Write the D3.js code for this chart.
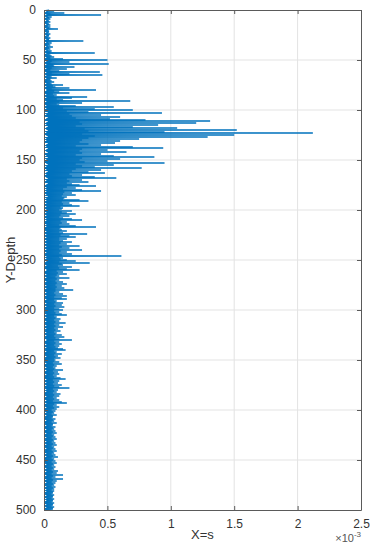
<!DOCTYPE html>
<html>
<head>
<meta charset="utf-8">
<script src="https://cdn.jsdelivr.net/npm/d3@7"></script>
<style>
  html, body { margin: 0; padding: 0; background: #fff; }
  svg { display: block; }
  text { font-family: "Liberation Sans", Arial, Helvetica, sans-serif; }
</style>
</head>
<body>
<div id="chart"></div>
<script>
// Excursion values of s (in units of 1e-3) at whole depths 0..500
const sValues = [
  0.04,0.08,0.03,0.16,0.05,0.45,0.03,0.06,0.04,0.05,
  0.03,0.04,0.05,0.03,0.04,0.05,0.03,0.05,0.04,0.11,
  0.03,0.04,0.04,0.03,0.05,0.04,0.04,0.03,0.05,0.04,
  0.04,0.31,0.03,0.06,0.04,0.05,0.03,0.07,0.04,0.05,
  0.03,0.06,0.05,0.40,0.04,0.05,0.06,0.08,0.05,0.15,
  0.50,0.06,0.20,0.05,0.51,0.07,0.08,0.24,0.06,0.18,
  0.05,0.12,0.44,0.06,0.20,0.46,0.05,0.06,0.10,0.05,
  0.05,0.06,0.08,0.05,0.06,0.15,0.07,0.09,0.20,0.06,
  0.41,0.08,0.12,0.20,0.07,0.10,0.08,0.34,0.22,0.10,
  0.15,0.68,0.12,0.30,0.10,0.12,0.25,0.55,0.15,0.40,
  0.70,0.18,0.35,0.93,0.20,0.45,0.22,0.60,0.25,0.52,
  0.80,1.31,0.28,1.20,0.30,0.90,0.25,0.70,1.05,0.32,
  1.52,0.35,0.95,2.12,0.30,1.50,0.40,1.29,0.35,0.75,
  0.30,0.60,0.28,0.56,0.35,0.45,0.25,0.70,0.94,0.30,
  0.50,0.28,0.65,0.30,0.45,0.25,0.55,0.87,0.30,0.60,
  0.28,0.50,0.32,0.95,0.25,0.55,0.30,0.40,0.77,0.25,
  0.45,0.22,0.35,0.48,0.20,0.30,0.22,0.40,0.57,0.18,
  0.30,0.20,0.35,0.18,0.22,0.28,0.41,0.18,0.25,0.15,
  0.30,0.45,0.16,0.22,0.15,0.25,0.14,0.18,0.16,0.15,
  0.28,0.35,0.14,0.20,0.15,0.22,0.28,0.13,0.15,0.14,
  0.12,0.22,0.14,0.18,0.25,0.13,0.20,0.12,0.15,0.22,
  0.30,0.13,0.18,0.14,0.20,0.12,0.25,0.41,0.13,0.12,
  0.14,0.18,0.12,0.15,0.34,0.13,0.20,0.25,0.12,0.18,
  0.12,0.15,0.22,0.13,0.18,0.12,0.28,0.14,0.20,0.12,
  0.30,0.13,0.18,0.12,0.22,0.14,0.61,0.12,0.15,0.13,
  0.18,0.25,0.12,0.36,0.14,0.15,0.11,0.22,0.12,0.18,
  0.28,0.10,0.15,0.11,0.18,0.10,0.12,0.09,0.20,0.10,
  0.12,0.09,0.15,0.10,0.18,0.09,0.14,0.10,0.16,0.09,
  0.23,0.09,0.12,0.08,0.15,0.09,0.18,0.08,0.14,0.18,
  0.08,0.10,0.09,0.15,0.08,0.14,0.09,0.16,0.08,0.12,
  0.15,0.08,0.12,0.09,0.14,0.18,0.08,0.10,0.09,0.13,
  0.08,0.12,0.09,0.17,0.08,0.12,0.09,0.15,0.08,0.11,
  0.09,0.13,0.08,0.10,0.09,0.14,0.08,0.16,0.09,0.12,
  0.22,0.08,0.12,0.09,0.14,0.08,0.12,0.09,0.11,0.15,
  0.17,0.08,0.10,0.09,0.14,0.08,0.11,0.09,0.13,0.08,
  0.09,0.08,0.12,0.07,0.14,0.08,0.10,0.07,0.09,0.08,
  0.15,0.07,0.11,0.08,0.12,0.07,0.10,0.08,0.13,0.17,
  0.07,0.12,0.08,0.11,0.07,0.14,0.08,0.12,0.20,0.07,
  0.11,0.08,0.10,0.07,0.13,0.08,0.12,0.07,0.10,0.08,
  0.12,0.07,0.14,0.18,0.08,0.10,0.07,0.12,0.08,0.10,
  0.06,0.09,0.07,0.08,0.06,0.10,0.07,0.07,0.06,0.09,
  0.07,0.08,0.06,0.10,0.07,0.07,0.06,0.09,0.07,0.08,
  0.06,0.09,0.07,0.10,0.06,0.08,0.07,0.09,0.06,0.10,
  0.07,0.08,0.06,0.09,0.07,0.10,0.06,0.08,0.07,0.09,
  0.06,0.10,0.07,0.08,0.06,0.09,0.07,0.11,0.06,0.08,
  0.07,0.09,0.06,0.10,0.07,0.08,0.06,0.09,0.07,0.08,
  0.06,0.11,0.07,0.10,0.06,0.15,0.07,0.09,0.06,0.15,
  0.07,0.10,0.06,0.09,0.07,0.08,0.06,0.09,0.07,0.08,
  0.06,0.08,0.07,0.07,0.06,0.08,0.07,0.07,0.06,0.08,
  0.07,0.07,0.06,0.08,0.07,0.07,0.06,0.08,0.07,0.07,
  0.06
];
// Near-zero values of s (in units of 1e-3) at half depths 0.5..499.5
const sHalfValues = [
  0.01,0.02,0.01,0.00,0.02,0.01,0.01,0.02,0.00,0.01,
  0.02,0.01,0.00,0.01,0.02,0.01,0.01,0.00,0.02,0.01,
  0.01,0.00,0.02,0.01,0.01,0.02,0.00,0.01,0.01,0.02,
  0.00,0.01,0.02,0.01,0.00,0.01,0.02,0.01,0.01,0.00,
  0.02,0.01,0.01,0.02,0.00,0.01,0.01,0.02,0.01,0.00,
  0.01,0.02,0.00,0.01,0.02,0.01,0.01,0.00,0.02,0.01,
  0.00,0.01,0.02,0.01,0.01,0.02,0.00,0.01,0.02,0.01,
  0.01,0.00,0.01,0.02,0.01,0.00,0.02,0.01,0.01,0.02,
  0.02,0.01,0.00,0.01,0.02,0.01,0.01,0.02,0.00,0.01,
  0.01,0.02,0.01,0.00,0.01,0.02,0.01,0.01,0.02,0.00,
  0.02,0.01,0.03,0.01,0.02,0.00,0.01,0.03,0.02,0.01,
  0.01,0.03,0.02,0.00,0.02,0.01,0.03,0.02,0.01,0.02,
  0.03,0.01,0.02,0.01,0.00,0.02,0.03,0.01,0.02,0.01,
  0.02,0.00,0.01,0.03,0.02,0.01,0.02,0.01,0.03,0.02,
  0.01,0.02,0.03,0.01,0.00,0.02,0.01,0.03,0.01,0.02,
  0.02,0.01,0.00,0.02,0.03,0.01,0.02,0.01,0.00,0.02,
  0.01,0.03,0.02,0.01,0.02,0.00,0.01,0.02,0.03,0.01,
  0.02,0.01,0.01,0.03,0.02,0.01,0.00,0.02,0.01,0.02,
  0.01,0.02,0.00,0.01,0.02,0.01,0.03,0.01,0.02,0.00,
  0.02,0.01,0.01,0.02,0.00,0.01,0.02,0.01,0.01,0.02,
  0.01,0.00,0.02,0.01,0.01,0.02,0.01,0.00,0.02,0.01,
  0.02,0.01,0.01,0.00,0.02,0.01,0.02,0.01,0.00,0.01,
  0.01,0.02,0.00,0.01,0.02,0.01,0.01,0.02,0.01,0.00,
  0.02,0.01,0.01,0.02,0.00,0.01,0.02,0.01,0.01,0.02,
  0.00,0.01,0.02,0.01,0.01,0.00,0.02,0.01,0.02,0.01,
  0.01,0.02,0.01,0.00,0.01,0.02,0.01,0.01,0.00,0.02,
  0.02,0.01,0.00,0.01,0.02,0.01,0.01,0.02,0.01,0.00,
  0.01,0.02,0.01,0.01,0.00,0.02,0.01,0.01,0.02,0.01,
  0.00,0.01,0.02,0.01,0.01,0.02,0.00,0.01,0.01,0.02,
  0.01,0.00,0.01,0.02,0.01,0.01,0.02,0.00,0.01,0.01,
  0.02,0.01,0.01,0.00,0.02,0.01,0.01,0.02,0.01,0.00,
  0.01,0.02,0.00,0.01,0.01,0.02,0.01,0.00,0.02,0.01,
  0.01,0.01,0.02,0.00,0.01,0.02,0.01,0.01,0.00,0.02,
  0.02,0.00,0.01,0.01,0.02,0.01,0.00,0.02,0.01,0.01,
  0.01,0.02,0.01,0.00,0.01,0.01,0.02,0.01,0.01,0.00,
  0.00,0.01,0.01,0.02,0.01,0.00,0.01,0.02,0.01,0.01,
  0.02,0.01,0.00,0.01,0.02,0.01,0.01,0.00,0.01,0.02,
  0.01,0.00,0.02,0.01,0.01,0.02,0.00,0.01,0.01,0.02,
  0.01,0.02,0.01,0.00,0.01,0.01,0.02,0.01,0.00,0.01,
  0.02,0.01,0.01,0.02,0.00,0.01,0.01,0.02,0.01,0.00,
  0.01,0.01,0.02,0.00,0.01,0.02,0.01,0.01,0.00,0.01,
  0.02,0.01,0.00,0.01,0.01,0.02,0.01,0.00,0.01,0.02,
  0.01,0.00,0.01,0.02,0.01,0.01,0.00,0.02,0.01,0.01,
  0.00,0.02,0.01,0.01,0.02,0.00,0.01,0.01,0.02,0.01,
  0.01,0.01,0.00,0.02,0.01,0.01,0.02,0.01,0.00,0.01,
  0.02,0.00,0.01,0.01,0.02,0.01,0.00,0.01,0.02,0.01,
  0.01,0.02,0.01,0.00,0.01,0.02,0.01,0.01,0.00,0.02,
  0.00,0.01,0.02,0.01,0.01,0.00,0.02,0.01,0.01,0.02,
  0.01,0.02,0.00,0.01,0.01,0.02,0.01,0.00,0.02,0.01,
  0.02,0.01,0.01,0.00,0.02,0.01,0.01,0.02,0.00,0.01
];
const depthStep = 1;
const xTicks = [0, 0.5, 1, 1.5, 2, 2.5];
const xTickLabels = ["0", "0.5", "1", "1.5", "2", "2.5"];
const yTicks = [0, 50, 100, 150, 200, 250, 300, 350, 400, 450, 500];
const xLabel = "X=s";
const yLabel = "Y-Depth";

// interleave whole-depth and half-depth samples into one ordered series
const data = [];
sValues.forEach((v, i) => {
  data.push({ depth: i * depthStep, s: v });
  if (i < sHalfValues.length) data.push({ depth: (i + 0.5) * depthStep, s: sHalfValues[i] });
});

const W = 372, H = 550;
const margin = { left: 44, right: 11, top: 10, bottom: 40 };
const iw = W - margin.left - margin.right;
const ih = H - margin.top - margin.bottom;

const svg = d3.select("#chart").append("svg").attr("width", W).attr("height", H);
const g = svg.append("g").attr("transform", `translate(${margin.left},${margin.top})`);

const x = d3.scaleLinear().domain([0, 2.5]).range([0, iw]);
const y = d3.scaleLinear().domain([0, 500]).range([0, ih]);

// grid
g.append("g").selectAll("line").data(xTicks.slice(1, -1)).join("line")
  .attr("x1", d => x(d)).attr("x2", d => x(d)).attr("y1", 0).attr("y2", ih)
  .attr("stroke", "#e3e3e3").attr("stroke-width", 1);
g.append("g").selectAll("line").data(yTicks.slice(1, -1)).join("line")
  .attr("y1", d => y(d)).attr("y2", d => y(d)).attr("x1", 0).attr("x2", iw)
  .attr("stroke", "#e3e3e3").attr("stroke-width", 1);

// data line
const line = d3.line().x(d => x(d.s)).y(d => y(d.depth));
g.append("path").datum(data).attr("d", line)
  .attr("fill", "none").attr("stroke", "#0072BD").attr("stroke-width", 1)
  .attr("stroke-linejoin", "bevel");

// axes (MATLAB style: ticks inside, box)
const axColor = "#5a5a5a";
const xAxis = g.append("g").attr("transform", `translate(0,${ih})`)
  .call(d3.axisBottom(x).tickValues(xTicks).tickFormat((d, i) => xTickLabels[i]).tickSizeInner(-4).tickSizeOuter(0).tickPadding(9));
const xAxisTop = g.append("g")
  .call(d3.axisTop(x).tickValues(xTicks).tickFormat("").tickSizeInner(-4).tickSizeOuter(0));
const yAxis = g.append("g")
  .call(d3.axisLeft(y).tickValues(yTicks).tickSizeInner(-4).tickSizeOuter(0).tickPadding(8));
const yAxisRight = g.append("g").attr("transform", `translate(${iw},0)`)
  .call(d3.axisRight(y).tickValues(yTicks).tickFormat("").tickSizeInner(-4).tickSizeOuter(0));

[xAxis, xAxisTop, yAxis, yAxisRight].forEach(a => {
  a.select(".domain").attr("stroke", axColor);
  a.selectAll(".tick line").attr("stroke", axColor);
  a.selectAll("text").attr("fill", "#333").style("font-size", "12px");
});

// labels
svg.append("text").attr("x", margin.left + iw / 2).attr("y", 539)
  .attr("text-anchor", "middle").attr("fill", "#333").style("font-size", "13px").text(xLabel);
svg.append("text").attr("transform", `translate(15,${margin.top + ih / 2}) rotate(-90)`)
  .attr("text-anchor", "middle").attr("fill", "#333").style("font-size", "13px").text(yLabel);

// exponent
const ex = svg.append("text").attr("x", W - margin.right).attr("y", 542)
  .attr("text-anchor", "end").attr("fill", "#555").style("font-size", "11px");
ex.append("tspan").text("\u00d710");
ex.append("tspan").attr("dy", -5).style("font-size", "8px").text("-3");
</script>
</body>
</html>
